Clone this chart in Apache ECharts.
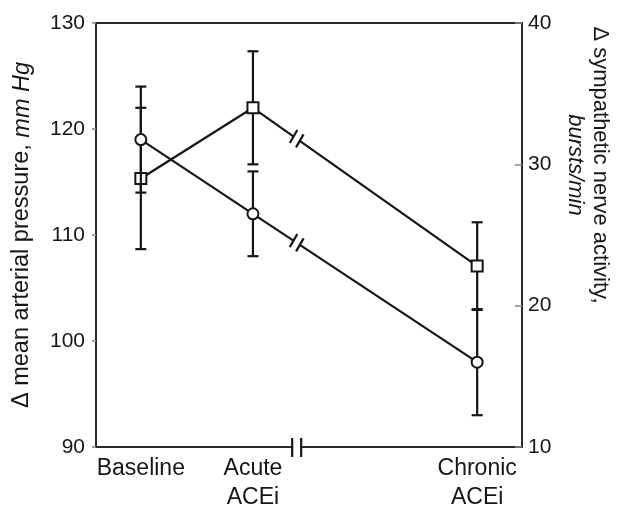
<!DOCTYPE html>
<html>
<head>
<meta charset="utf-8">
<script src="https://cdn.jsdelivr.net/npm/echarts@6/dist/echarts.min.js"></script>
<style>
html, body { margin: 0; background: #fff; }
#chart { width: 617px; height: 514px; }
</style>
</head>
<body>
<div id="chart"></div>
<script>
// stages on the x axis (chronic sits further out, past the break)
var stages = ['Baseline', 'Acute\nACEi', 'Chronic\nACEi'];
var stagePos = [0, 1, 3];
var breakPos = 1.39;

// mean arterial pressure, circles, left axis
var mapMean = [119, 112, 98];
var mapErr = [5, 4, 5];

// sympathetic nerve activity, squares, right axis
var snaMean = [29, 34, 22.8];
var snaErr = [5, 4, 3.1];

var ink = '#161616';
var font = '"Liberation Sans", Arial, Helvetica, sans-serif';

function points(xs, ys) {
    return xs.map(function (x, i) { return [x, ys[i]]; });
}
function bars(xs, ys, es) {
    return xs.map(function (x, i) { return [x, ys[i] - es[i], ys[i] + es[i]]; });
}

// vertical error bar with caps
function errRender(params, api) {
    var x = api.value(0);
    var top = api.coord([x, api.value(2)]);
    var bot = api.coord([x, api.value(1)]);
    var w = 5.5;
    var st = { stroke: ink, lineWidth: 2.2 };
    return {
        type: 'group',
        children: [
            { type: 'line', shape: { x1: top[0], y1: top[1], x2: bot[0], y2: bot[1] }, style: st },
            { type: 'line', shape: { x1: top[0] - w, y1: top[1], x2: top[0] + w, y2: top[1] }, style: st },
            { type: 'line', shape: { x1: bot[0] - w, y1: bot[1], x2: bot[0] + w, y2: bot[1] }, style: st }
        ]
    };
}

// "//" break on the acute -> chronic segment
function lineBreak(xs, ys) {
    return function (params, api) {
        var a = api.coord([xs[1], ys[1]]);
        var b = api.coord([xs[2], ys[2]]);
        var p = api.coord([api.value(0), api.value(1)]);
        var len = Math.sqrt((b[0] - a[0]) * (b[0] - a[0]) + (b[1] - a[1]) * (b[1] - a[1]));
        var ux = (b[0] - a[0]) / len, uy = (b[1] - a[1]) / len;
        var gap = 3.8, h = 7.5;
        var sx = Math.cos(Math.PI / 3), sy = -Math.sin(Math.PI / 3);
        var kids = [{
            type: 'line',
            shape: { x1: p[0] - gap * ux, y1: p[1] - gap * uy, x2: p[0] + gap * ux, y2: p[1] + gap * uy },
            style: { stroke: '#fff', lineWidth: 6 }
        }];
        [-1, 1].forEach(function (k) {
            var cx = p[0] + k * gap * ux, cy = p[1] + k * gap * uy;
            kids.push({
                type: 'line',
                shape: { x1: cx - h * sx, y1: cy - h * sy, x2: cx + h * sx, y2: cy + h * sy },
                style: { stroke: ink, lineWidth: 2.2 }
            });
        });
        return { type: 'group', children: kids };
    };
}

// "||" break on the x axis line
function axisBreak(params, api) {
    var p = api.coord([api.value(0), api.value(1)]);
    var d = 4.5;
    var st = { stroke: ink, lineWidth: 2.2 };
    return {
        type: 'group',
        children: [
            { type: 'rect', shape: { x: p[0] - d + 1, y: p[1] - 3, width: 2 * d - 2, height: 6 }, style: { fill: '#fff' } },
            { type: 'line', shape: { x1: p[0] - d, y1: p[1] - 9, x2: p[0] - d, y2: p[1] + 10 }, style: st },
            { type: 'line', shape: { x1: p[0] + d, y1: p[1] - 9, x2: p[0] + d, y2: p[1] + 10 }, style: st }
        ]
    };
}

function interp(xs, ys, x) {
    var t = (x - xs[1]) / (xs[2] - xs[1]);
    return ys[1] + (ys[2] - ys[1]) * t;
}

var myChart = echarts.init(document.getElementById('chart'));

var option = {
    backgroundColor: '#fff',
    animation: false,
    grid: {
        left: 96, right: 95, top: 23, bottom: 67,
        show: true, borderColor: '#2a2a2a', borderWidth: 2,
        outerBoundsMode: 'none'
    },
    xAxis: {
        type: 'value',
        min: -0.4,
        max: 3.4,
        splitLine: { show: false },
        axisLine: { show: false, onZero: false },
        axisTick: { show: false },
        axisLabel: {
            customValues: stagePos,
            formatter: function (v) { return stages[stagePos.indexOf(v)] || ''; },
            color: ink,
            fontFamily: font,
            fontSize: 23,
            lineHeight: 29,
            margin: 7,
            align: 'center'
        }
    },
    yAxis: [{
        type: 'value',
        min: 90,
        max: 130,
        interval: 10,
        position: 'left',
        splitLine: { show: false },
        axisLine: { show: false, onZero: false },
        axisTick: { show: true, length: 4, lineStyle: { color: '#888', width: 1.5 } },
        axisLabel: { color: ink, fontFamily: font, fontSize: 21, margin: 11 },
        name: 'Δ mean arterial pressure, {i|mm Hg}',
        nameLocation: 'middle',
        nameGap: 62,
        nameRotate: 90,
        nameTextStyle: {
            color: ink, fontFamily: font, fontSize: 23.5,
            rich: { i: { fontStyle: 'italic', fontFamily: font, fontSize: 23.5, color: ink } }
        }
    }, {
        type: 'value',
        min: 10,
        max: 40,
        interval: 10,
        position: 'right',
        splitLine: { show: false },
        axisLine: { show: false, onZero: false },
        axisTick: { show: true, inside: true, length: 7, lineStyle: { color: '#888', width: 1.5 } },
        axisLabel: { color: ink, fontFamily: font, fontSize: 21, margin: 6 }
    }],
    graphic: [{
        type: 'text',
        x: 588,
        y: 165,
        rotation: -Math.PI / 2,
        style: {
            text: 'Δ sympathetic nerve activity,\n{i|bursts/min}',
            fill: ink,
            font: '22px ' + font,
            align: 'center',
            verticalAlign: 'middle',
            lineHeight: 25,
            rich: { i: { fontStyle: 'italic', fontSize: 22, fontFamily: font, fill: ink, lineHeight: 25 } }
        }
    }],
    series: [{
        name: 'SNA error',
        type: 'custom',
        yAxisIndex: 1,
        z: 2,
        clip: false,
        renderItem: errRender,
        encode: { x: 0, y: [1, 2] },
        data: bars(stagePos, snaMean, snaErr)
    }, {
        name: 'SNA',
        type: 'line',
        yAxisIndex: 1,
        z: 3,
        data: points(stagePos, snaMean),
        symbol: 'rect',
        symbolSize: 11,
        lineStyle: { color: ink, width: 2.2 },
        itemStyle: { color: '#fff', borderColor: ink, borderWidth: 2 }
    }, {
        name: 'MAP error',
        type: 'custom',
        yAxisIndex: 0,
        z: 4,
        clip: false,
        renderItem: errRender,
        encode: { x: 0, y: [1, 2] },
        data: bars(stagePos, mapMean, mapErr)
    }, {
        name: 'MAP',
        type: 'line',
        yAxisIndex: 0,
        z: 5,
        data: points(stagePos, mapMean),
        symbol: 'circle',
        symbolSize: 11,
        lineStyle: { color: ink, width: 2.2 },
        itemStyle: { color: '#fff', borderColor: ink, borderWidth: 2 }
    }, {
        name: 'SNA break',
        type: 'custom',
        yAxisIndex: 1,
        z: 6,
        clip: false,
        renderItem: lineBreak(stagePos, snaMean),
        data: [[breakPos, interp(stagePos, snaMean, breakPos)]]
    }, {
        name: 'MAP break',
        type: 'custom',
        yAxisIndex: 0,
        z: 6,
        clip: false,
        renderItem: lineBreak(stagePos, mapMean),
        data: [[breakPos, interp(stagePos, mapMean, breakPos)]]
    }, {
        name: 'axis break',
        type: 'custom',
        yAxisIndex: 0,
        z: 6,
        clip: false,
        renderItem: axisBreak,
        data: [[breakPos, 90]]
    }]
};

if (option && typeof option === "object") {
    myChart.setOption(option, true);
}
</script>
</body>
</html>
